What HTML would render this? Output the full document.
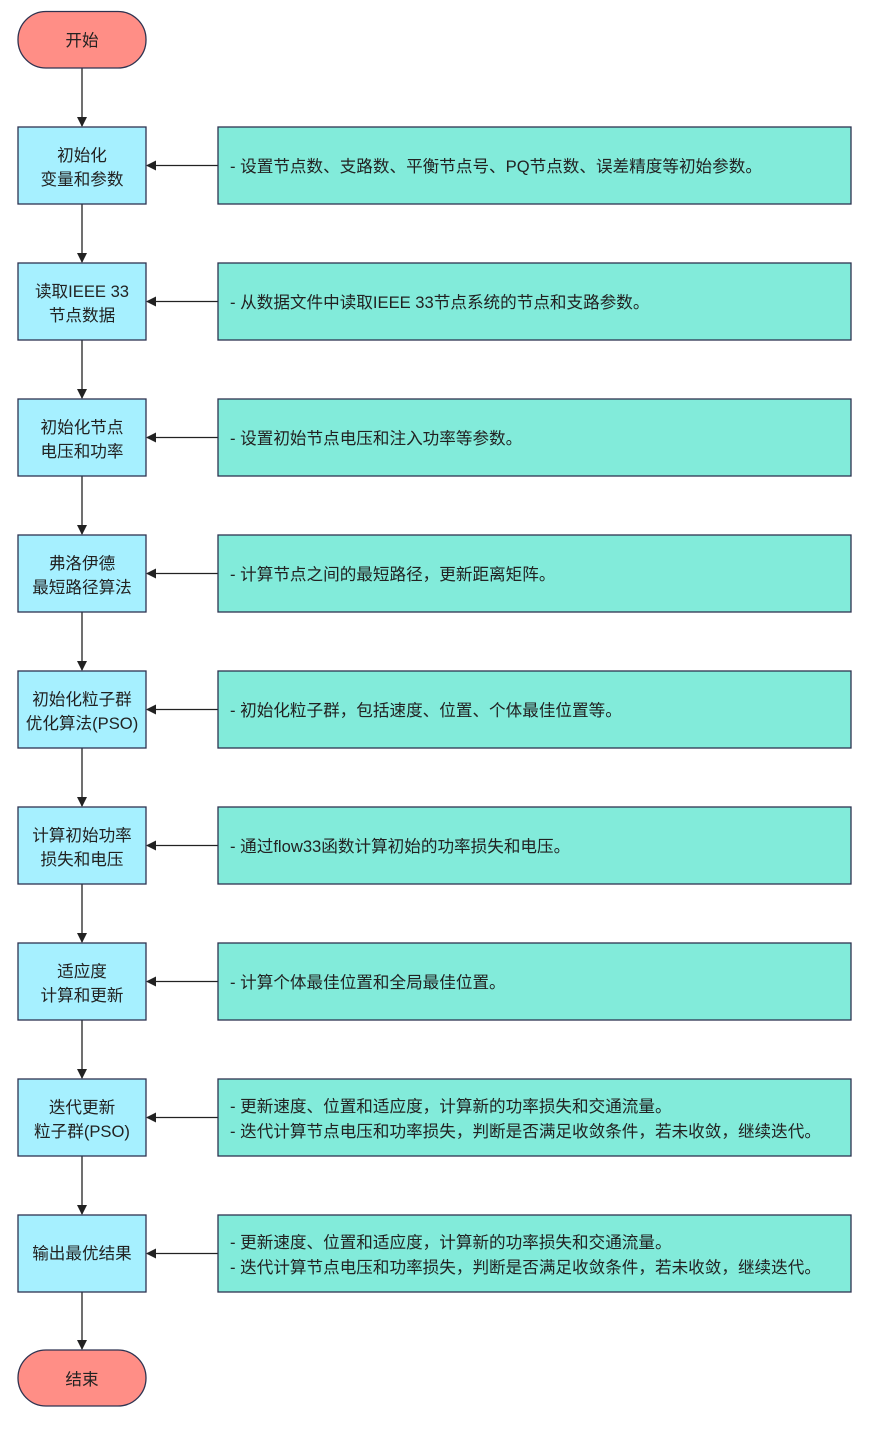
<!DOCTYPE html>
<html><head><meta charset="utf-8"><style>
body{margin:0;background:#fff}
svg text{font-family:"Liberation Sans","Noto Sans CJK SC",sans-serif;font-size:16.6px;fill:#222}
</style></head><body>
<svg width="870" height="1424" viewBox="0 0 870 1424" xmlns="http://www.w3.org/2000/svg">
<defs><marker id="a" markerWidth="10" markerHeight="10" refX="9" refY="5" orient="auto" markerUnits="userSpaceOnUse"><path d="M0,0 L10,5 L0,10 z" fill="#222"/></marker></defs>
<g stroke="#222" stroke-width="1.3">
<line x1="82" y1="68" x2="82" y2="126" marker-end="url(#a)"/>
<line x1="82" y1="204" x2="82" y2="262" marker-end="url(#a)"/>
<line x1="82" y1="340" x2="82" y2="398" marker-end="url(#a)"/>
<line x1="82" y1="476" x2="82" y2="534" marker-end="url(#a)"/>
<line x1="82" y1="612" x2="82" y2="670" marker-end="url(#a)"/>
<line x1="82" y1="748" x2="82" y2="806" marker-end="url(#a)"/>
<line x1="82" y1="884" x2="82" y2="942" marker-end="url(#a)"/>
<line x1="82" y1="1020" x2="82" y2="1078" marker-end="url(#a)"/>
<line x1="82" y1="1156" x2="82" y2="1214" marker-end="url(#a)"/>
<line x1="82" y1="1292" x2="82" y2="1349" marker-end="url(#a)"/>
<line x1="218" y1="165.5" x2="147" y2="165.5" marker-end="url(#a)"/>
<line x1="218" y1="301.5" x2="147" y2="301.5" marker-end="url(#a)"/>
<line x1="218" y1="437.5" x2="147" y2="437.5" marker-end="url(#a)"/>
<line x1="218" y1="573.5" x2="147" y2="573.5" marker-end="url(#a)"/>
<line x1="218" y1="709.5" x2="147" y2="709.5" marker-end="url(#a)"/>
<line x1="218" y1="845.5" x2="147" y2="845.5" marker-end="url(#a)"/>
<line x1="218" y1="981.5" x2="147" y2="981.5" marker-end="url(#a)"/>
<line x1="218" y1="1117.5" x2="147" y2="1117.5" marker-end="url(#a)"/>
<line x1="218" y1="1253.5" x2="147" y2="1253.5" marker-end="url(#a)"/>
</g>
<g stroke="#2e3350" stroke-width="1.3">
<rect x="18" y="11.5" width="128" height="56.5" rx="28" fill="#ff8e86"/>
<rect x="18" y="1350" width="128" height="56" rx="28" fill="#ff8e86"/>
<g fill="#a6f0ff">
<rect x="18" y="127" width="128" height="77"/><rect x="18" y="263" width="128" height="77"/><rect x="18" y="399" width="128" height="77"/><rect x="18" y="535" width="128" height="77"/><rect x="18" y="671" width="128" height="77"/><rect x="18" y="807" width="128" height="77"/><rect x="18" y="943" width="128" height="77"/><rect x="18" y="1079" width="128" height="77"/><rect x="18" y="1215" width="128" height="77"/>
</g>
<g fill="#82ebda">
<rect x="218" y="127" width="633" height="77"/><rect x="218" y="263" width="633" height="77"/><rect x="218" y="399" width="633" height="77"/><rect x="218" y="535" width="633" height="77"/><rect x="218" y="671" width="633" height="77"/><rect x="218" y="807" width="633" height="77"/><rect x="218" y="943" width="633" height="77"/><rect x="218" y="1079" width="633" height="77"/><rect x="218" y="1215" width="633" height="77"/>
</g>
</g>
<g text-anchor="middle">
<text x="82" y="46">开始</text>
<text x="82" y="1385">结束</text>
<text x="82" y="161">初始化</text><text x="82" y="185">变量和参数</text>
<text x="82" y="297">读取IEEE 33</text><text x="82" y="321">节点数据</text>
<text x="82" y="433">初始化节点</text><text x="82" y="457">电压和功率</text>
<text x="82" y="569">弗洛伊德</text><text x="82" y="593">最短路径算法</text>
<text x="82" y="705">初始化粒子群</text><text x="82" y="729">优化算法(PSO)</text>
<text x="82" y="841">计算初始功率</text><text x="82" y="865">损失和电压</text>
<text x="82" y="977">适应度</text><text x="82" y="1001">计算和更新</text>
<text x="82" y="1113">迭代更新</text><text x="82" y="1137">粒子群(PSO)</text>
<text x="82" y="1259">输出最优结果</text>
</g>
<g>
<text x="230" y="172">- 设置节点数、支路数、平衡节点号、PQ节点数、误差精度等初始参数。</text>
<text x="230" y="308">- 从数据文件中读取IEEE 33节点系统的节点和支路参数。</text>
<text x="230" y="444">- 设置初始节点电压和注入功率等参数。</text>
<text x="230" y="580">- 计算节点之间的最短路径，更新距离矩阵。</text>
<text x="230" y="716">- 初始化粒子群，包括速度、位置、个体最佳位置等。</text>
<text x="230" y="852">- 通过flow33函数计算初始的功率损失和电压。</text>
<text x="230" y="988">- 计算个体最佳位置和全局最佳位置。</text>
<text x="230" y="1112">- 更新速度、位置和适应度，计算新的功率损失和交通流量。</text>
<text x="230" y="1137">- 迭代计算节点电压和功率损失，判断是否满足收敛条件，若未收敛，继续迭代。</text>
<text x="230" y="1248">- 更新速度、位置和适应度，计算新的功率损失和交通流量。</text>
<text x="230" y="1273">- 迭代计算节点电压和功率损失，判断是否满足收敛条件，若未收敛，继续迭代。</text>
</g>
</svg>
</body></html>
